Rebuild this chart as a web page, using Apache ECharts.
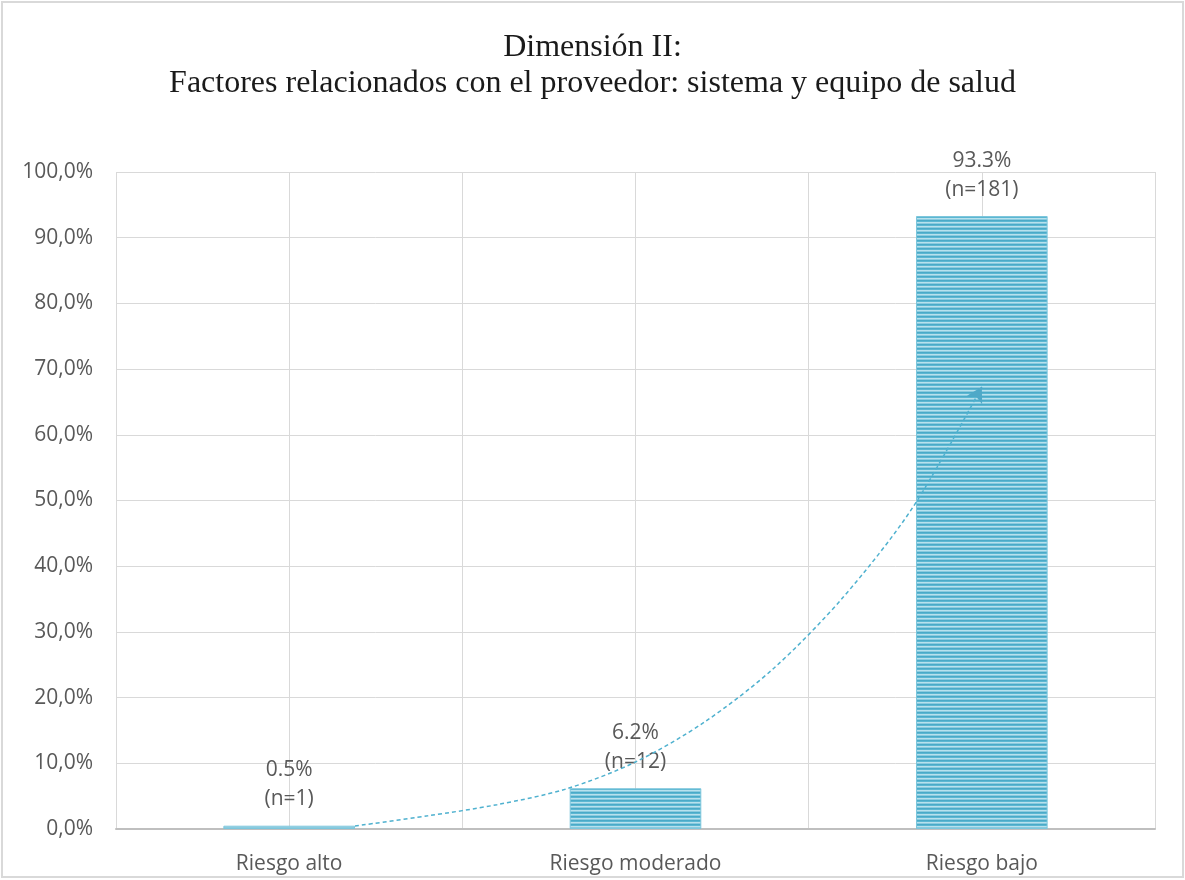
<!DOCTYPE html>
<html>
<head>
<meta charset="utf-8">
<script src="https://cdn.jsdelivr.net/npm/echarts@6/dist/echarts.min.js"></script>
<style>
  html, body { margin: 0; padding: 0; background: #ffffff; }
  #chart { width: 1185px; height: 880px; }
</style>
</head>
<body>
<div id="chart"></div>
<script>
// Risk categories and their shares of respondents
const categories = ['Riesgo alto', 'Riesgo moderado', 'Riesgo bajo'];
const percentages = [0.5, 6.2, 93.3];
const counts = [1, 12, 181];

// Y axis ticks (percent)
const yMin = 0;
const yMax = 100;
const yStep = 10;

// Dashed trend arrow, as [category position, percent]
const arrowX = [0.19, 0.4, 0.6, 0.8, 1.0, 1.2, 1.4, 1.6, 1.8, 2.0];
const arrowY = [0.46, 2.0, 3.7, 6.1, 10.2, 16.3, 24.5, 35.3, 48.9, 67.3];

const titleLines = ['Dimensión II:', 'Factores relacionados con el proveedor: sistema y equipo de salud'];

// Horizontal striped fill used by the bars
function stripePattern() {
  const c = document.createElement('canvas');
  c.width = 4; c.height = 4;
  const ctx = c.getContext('2d');
  const rows = ['#4aaac8', '#5cb7d2', '#b8e1ed', '#8acbdf'];
  rows.forEach((col, i) => { ctx.fillStyle = col; ctx.fillRect(0, i, 4, 1); });
  return c;
}

const textColor = '#595959';
const labelFont = 'Open Sans';
const labelSize = 21;

const chart = echarts.init(document.getElementById('chart'), null, { renderer: 'canvas' });

const arrowData = arrowX.map((x, i) => {
  const last = i === arrowX.length - 1;
  return last
    ? { value: [x, arrowY[i]], symbol: 'arrow', symbolSize: [13, 15], symbolRotate: -29 }
    : { value: [x, arrowY[i]], symbol: 'none' };
});

chart.setOption({
  animation: false,
  backgroundColor: '#ffffff',
  title: {
    text: titleLines.join('\n'),
    left: 'center',
    top: 25,
    textStyle: {
      fontFamily: 'Liberation Serif',
      fontSize: 32,
      fontWeight: 'normal',
      color: '#1a1a1a',
      lineHeight: 36
    }
  },
  graphic: [{
    type: 'rect',
    shape: { x: 2, y: 2, width: 1181, height: 875 },
    style: { fill: 'none', stroke: '#d9d9d9', lineWidth: 2 },
    silent: true,
    z: -1
  }],
  grid: { left: 116, right: 30, top: 172, bottom: 51, containLabel: false },
  xAxis: [{
    type: 'category',
    data: categories,
    boundaryGap: true,
    axisLine: { show: true, lineStyle: { color: '#bfbfbf', width: 2 } },
    axisTick: { show: false },
    splitLine: { show: false },
    axisLabel: { color: textColor, fontFamily: labelFont, fontSize: labelSize, margin: 25 }
  }, {
    type: 'value',
    min: -0.5,
    max: 2.5,
    interval: 0.5,
    position: 'bottom',
    axisLine: { show: false },
    axisTick: { show: false },
    axisLabel: { show: false },
    splitLine: { show: true, lineStyle: { color: '#d9d9d9', width: 1 } }
  }],
  yAxis: {
    type: 'value',
    min: yMin,
    max: yMax,
    interval: yStep,
    axisLine: { show: false },
    axisTick: { show: false },
    axisLabel: {
      color: textColor,
      fontFamily: labelFont,
      fontSize: labelSize,
      margin: 23,
      formatter: v => v.toFixed(1).replace('.', ',') + '%'
    },
    splitLine: { show: true, lineStyle: { color: '#d9d9d9', width: 1 } }
  },
  series: [{
    type: 'bar',
    xAxisIndex: 0,
    data: percentages,
    barWidth: '38%',
    itemStyle: {
      color: { image: stripePattern(), repeat: 'repeat' },
      borderColor: '#7cc6dc',
      borderWidth: 1
    },
    label: {
      show: true,
      position: 'top',
      distance: 12,
      color: textColor,
      fontFamily: labelFont,
      fontSize: labelSize,
      lineHeight: 29,
      formatter: p => percentages[p.dataIndex].toFixed(1) + '%\n(n=' + counts[p.dataIndex] + ')'
    },
    z: 2
  }, {
    type: 'line',
    xAxisIndex: 1,
    data: arrowData,
    smooth: 0.3,
    showSymbol: true,
    symbol: 'none',
    lineStyle: { color: '#4fb1cf', width: 1.5, type: [4, 3] },
    itemStyle: { color: '#4fa9c8' },
    z: 5,
    silent: true
  }]
});
</script>
</body>
</html>
